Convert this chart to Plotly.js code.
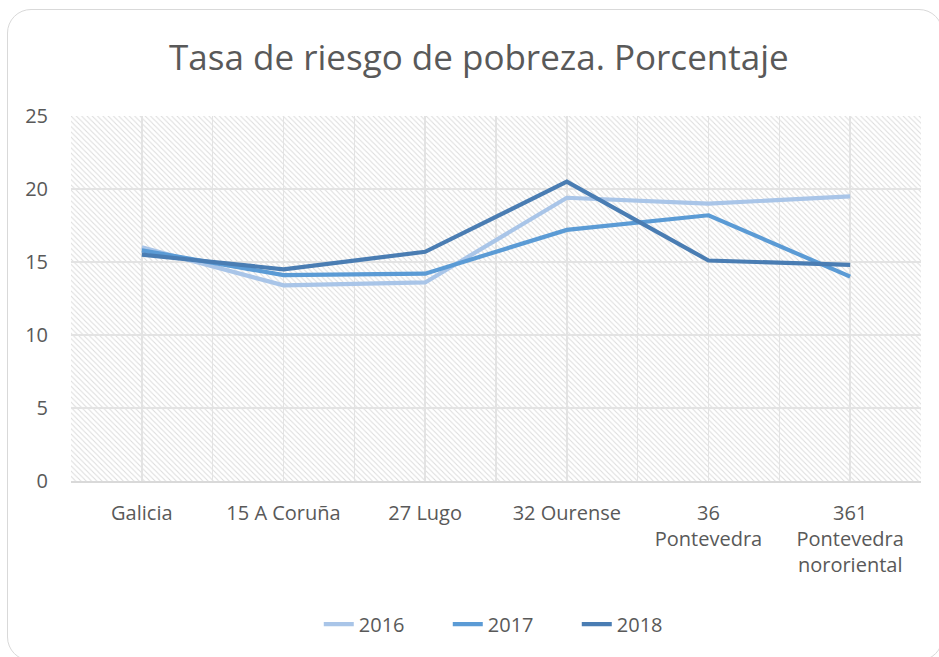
<!DOCTYPE html>
<html>
<head>
<meta charset="utf-8">
<script src="https://cdn.plot.ly/plotly-3.0.1.min.js"></script>
<style>
  html, body { margin: 0; padding: 0; width: 939px; height: 657px; overflow: hidden; background: #ffffff; }
  #frame { position: absolute; left: 7px; top: 9px; width: 936px; height: 652px; border: 1.5px solid #d9d9d9; border-radius: 24px; box-sizing: border-box; }
  #chart { position: absolute; left: 0; top: 0; width: 939px; height: 657px; }
</style>
</head>
<body>
<div id="frame"></div>
<div id="chart"></div>
<script>
// ---- data ----
const categories = ["Galicia", "15 A Coruña", "27 Lugo", "32 Ourense", "36<br>Pontevedra", "361<br>Pontevedra<br>nororiental"];
const seriesNames = ["2016", "2017", "2018"];
const values2016 = [16.0, 13.4, 13.6, 19.4, 19.0, 19.5];
const values2017 = [15.8, 14.1, 14.2, 17.2, 18.2, 14.0];
const values2018 = [15.5, 14.5, 15.7, 20.5, 15.1, 14.8];
const yTicks = [0, 5, 10, 15, 20, 25];
const chartTitle = "Tasa de riesgo de pobreza. Porcentaje";

const colors = ["#a9c5e8", "#5b9bd5", "#4a7db3"];
const allValues = [values2016, values2017, values2018];

const traces = allValues.map((vals, i) => ({
  type: "scatter",
  mode: "lines",
  name: seriesNames[i],
  x: categories,
  y: vals,
  line: { color: colors[i], width: 4.2 },
  xaxis: "x",
  yaxis: "y"
}));

// helper trace (no marks) so the overlaying category axis draws gridlines at category centres
traces.unshift({
  type: "scatter",
  mode: "lines",
  x: categories,
  y: categories.map(() => null),
  xaxis: "x2",
  yaxis: "y",
  showlegend: false,
  hoverinfo: "skip"
});

// hatched plot background
const hatchSvg =
  '<svg xmlns="http://www.w3.org/2000/svg" width="850" height="365">' +
  '<defs><pattern id="h" width="5.3" height="5.3" patternUnits="userSpaceOnUse">' +
  '<path d="M-1,-1 L6.3,6.3 M-1,4.3 L1,6.3 M4.3,-1 L6.3,1" stroke="#dcdcdc" stroke-width="1.0"/>' +
  '</pattern></defs>' +
  '<rect width="850" height="365" fill="#ffffff"/>' +
  '<rect width="850" height="365" fill="url(#h)"/></svg>';
const hatchUri = "data:image/svg+xml;charset=utf-8," + encodeURIComponent(hatchSvg);

const font = "Open Sans, Noto Sans, sans-serif";
const fs = 20;

const layout = {
  width: 939,
  height: 657,
  paper_bgcolor: "rgba(0,0,0,0)",
  plot_bgcolor: "rgba(0,0,0,0)",
  margin: { l: 71, r: 18, t: 116, b: 176 },
  font: { family: font, color: "#595959", size: fs },
  title: {
    text: chartTitle,
    font: { family: font, size: 35, color: "#595959" },
    x: 0.51, xref: "container", xanchor: "center",
    y: 0.912, yref: "container", yanchor: "middle"
  },
  showlegend: true,
  legend: {
    orientation: "h",
    x: 0.2915, xanchor: "left",
    y: -0.392, yanchor: "middle",
    font: { family: font, size: fs, color: "#595959" },
    entrywidth: 84,
    entrywidthmode: "pixels",
    tracegroupgap: 0
  },
  xaxis: {
    type: "category",
    range: [-0.5, 5.5],
    tickson: "boundaries",
    showgrid: true,
    gridcolor: "#e3e3e3",
    gridwidth: 1.5,
    showline: true,
    linecolor: "#d9d9d9",
    linewidth: 1.5,
    zeroline: false,
    ticks: "",
    ticklabelstandoff: 13,
    tickfont: { family: font, size: fs, color: "#595959" },
    fixedrange: true
  },
  xaxis2: {
    overlaying: "x",
    type: "category",
    range: [-0.5, 5.5],
    tickson: "labels",
    showgrid: true,
    gridcolor: "#e3e3e3",
    gridwidth: 1.5,
    showticklabels: false,
    zeroline: false,
    showline: false,
    ticks: ""
  },
  yaxis: {
    range: [0, 25],
    tickvals: yTicks,
    ticktext: yTicks.map(String),
    showgrid: true,
    gridcolor: "#e3e3e3",
    gridwidth: 1.5,
    zeroline: false,
    showline: false,
    ticks: "outside",
    ticklen: 18,
    tickcolor: "rgba(0,0,0,0)",
    tickfont: { family: font, size: fs, color: "#595959" },
    fixedrange: true
  },
  images: [{
    source: hatchUri,
    xref: "paper", yref: "paper",
    x: 0, y: 1, sizex: 1, sizey: 1,
    xanchor: "left", yanchor: "top",
    sizing: "stretch",
    layer: "below"
  }]
};

Plotly.newPlot("chart", traces, layout, { displayModeBar: false, staticPlot: true });
</script>
</body>
</html>
